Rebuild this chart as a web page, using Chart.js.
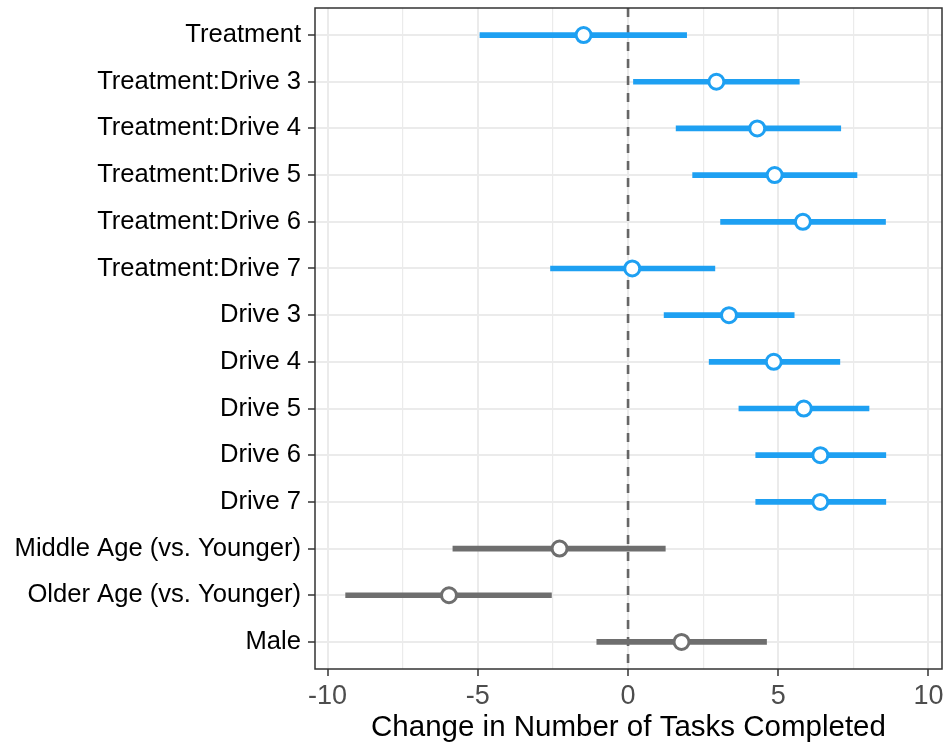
<!DOCTYPE html>
<html>
<head>
<meta charset="utf-8">
<script src="https://cdn.jsdelivr.net/npm/chart.js@4/dist/chart.umd.min.js"></script>
<style>
  html, body { margin: 0; padding: 0; background: #ffffff; }
  #wrap { width: 947px; height: 746px; }
</style>
</head>
<body>
<div id="wrap"><canvas id="c" width="947" height="746"></canvas></div>
<script>
// ---- data ----
const categories = [
  "Treatment",
  "Treatment:Drive 3",
  "Treatment:Drive 4",
  "Treatment:Drive 5",
  "Treatment:Drive 6",
  "Treatment:Drive 7",
  "Drive 3",
  "Drive 4",
  "Drive 5",
  "Drive 6",
  "Drive 7",
  "Middle Age (vs. Younger)",
  "Older Age (vs. Younger)",
  "Male"
];
const estimate = [-1.48, 2.94, 4.30, 4.88, 5.82, 0.14, 3.36, 4.85, 5.85, 6.40, 6.40, -2.28, -5.96, 1.78];
const lower    = [-4.93, 0.18, 1.60, 2.15, 3.08, -2.58, 1.20, 2.70, 3.69, 4.25, 4.25, -5.83, -9.40, -1.04];
const upper    = [ 1.95, 5.70, 7.08, 7.62, 8.57, 2.89, 5.53, 7.05, 8.02, 8.58, 8.58, 1.24, -2.55, 4.61];
const group    = ["tx","tx","tx","tx","tx","tx","tx","tx","tx","tx","tx","demo","demo","demo"];
const xTicks = [-10, -7.5, -5, -2.5, 0, 2.5, 5, 7.5, 10];
const xTickLabels = ["-10", "", "-5", "", "0", "", "5", "", "10"];
const xTitle = "Change in Number of Tasks Completed";
const refLine = 0;

// ---- styles ----
const groupColor = { tx: "#1ea0f2", demo: "#6e6e6e" };
const colors = group.map(g => groupColor[g]);
const FONT = "'Liberation Sans', Arial, Helvetica, sans-serif";

const chromePlugin = {
  id: "chrome",
  beforeDatasetsDraw(chart) {
    const { ctx, chartArea, scales } = chart;
    const x0 = scales.x.getPixelForValue(refLine);
    ctx.save();
    ctx.strokeStyle = "#666666";
    ctx.lineWidth = 2.6;
    ctx.setLineDash([9, 8]);
    ctx.beginPath();
    ctx.moveTo(x0, chartArea.top);
    ctx.lineTo(x0, chartArea.bottom);
    ctx.stroke();
    ctx.restore();
  },
  afterDraw(chart) {
    const { ctx, chartArea } = chart;
    ctx.save();
    ctx.strokeStyle = "#333333";
    ctx.lineWidth = 1.5;
    ctx.strokeRect(chartArea.left, chartArea.top, chartArea.right - chartArea.left, chartArea.bottom - chartArea.top);
    ctx.restore();
  }
};

new Chart(document.getElementById("c"), {
  type: "bar",
  data: {
    datasets: [
      {
        type: "bar",
        xAxisID: "x",
        yAxisID: "y",
        data: categories.map((c, i) => ({ x: [lower[i], upper[i]], y: i })),
        backgroundColor: colors,
        borderWidth: 0,
        barThickness: 5,
        order: 2
      },
      {
        type: "scatter",
        xAxisID: "x",
        yAxisID: "y",
        data: categories.map((c, i) => ({ x: estimate[i], y: i })),
        pointRadius: 7.5,
        pointBorderWidth: 3,
        pointBackgroundColor: "#ffffff",
        pointBorderColor: colors,
        showLine: false,
        order: 1
      }
    ]
  },
  options: {
    indexAxis: "y",
    responsive: false,
    animation: false,
    events: [],
    layout: { autoPadding: false, padding: { top: 8, right: 5, left: 0, bottom: 0 } },
    plugins: { legend: { display: false }, tooltip: { enabled: false } },
    scales: {
      y: {
        type: "linear",
        reverse: true,
        offset: false,
        min: -0.58,
        max: 13.58,
        afterBuildTicks: s => { s.ticks = categories.map((c, i) => ({ value: i })); },
        afterFit: s => { s.width = 315; s.paddingTop = 0; s.paddingBottom = 0; },
        ticks: {
          callback: v => categories[v],
          color: "#000000",
          font: { family: FONT, size: 25.6 },
          padding: 7,
          autoSkip: false
        },
        grid: {
          offset: false,
          color: "#ebebeb",
          lineWidth: 2,
          drawTicks: true,
          tickLength: 7,
          tickColor: "#333333",
          tickWidth: 1.5
        },
        border: { display: false }
      },
      x: {
        type: "linear",
        min: -10.42,
        max: 10.45,
        afterBuildTicks: s => { s.ticks = xTicks.map(v => ({ value: v })); },
        afterFit: s => { s.height = 77; s.paddingLeft = 0; s.paddingRight = 0; },
        ticks: {
          callback: (v, i) => xTickLabels[i],
          color: "#4d4d4d",
          font: { family: FONT, size: 27 },
          padding: 4,
          maxRotation: 0,
          autoSkip: false
        },
        grid: {
          color: "#ebebeb",
          lineWidth: ctx => (ctx.tick && ctx.tick.value % 5 === 0) ? 2 : 1.2,
          drawTicks: true,
          tickLength: 7,
          tickColor: ctx => (ctx.tick && ctx.tick.value % 5 === 0) ? "#333333" : "rgba(0,0,0,0)",
          tickWidth: 1.5
        },
        border: { display: false },
        title: {
          display: true,
          text: xTitle,
          color: "#000000",
          font: { family: FONT, size: 29.5 },
          padding: { top: 0, bottom: 0 }
        }
      }
    }
  },
  plugins: [chromePlugin]
});
</script>
</body>
</html>
